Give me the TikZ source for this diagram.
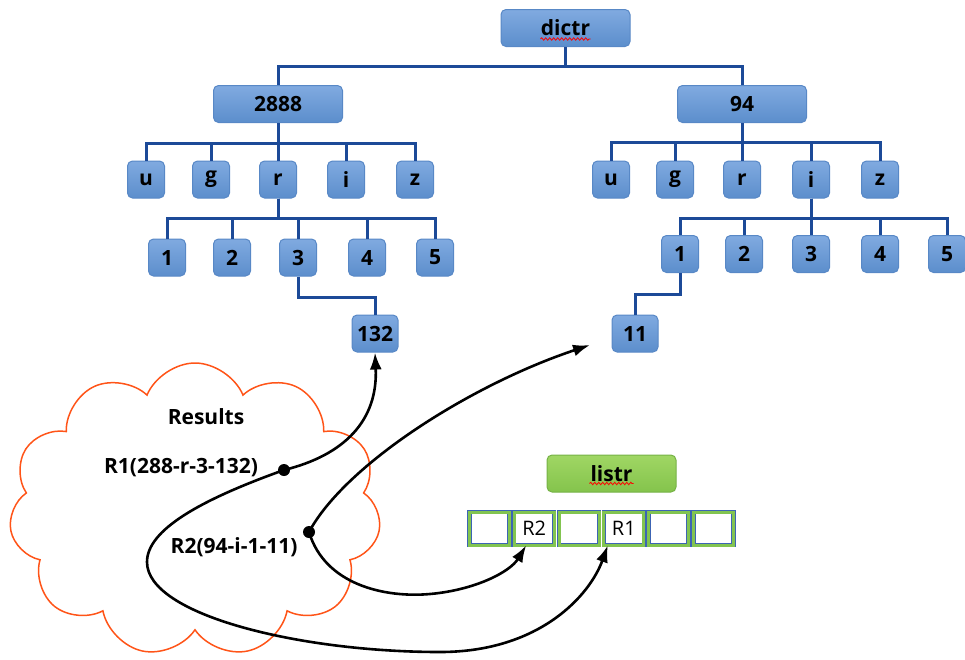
\documentclass[tikz,border=0pt]{standalone}
\usepackage{fontspec}
\setmainfont{Open Sans}
\usetikzlibrary{shapes.symbols,arrows.meta,calc,decorations.pathmorphing}
\definecolor{boxtop}{RGB}{128,170,224}
\definecolor{boxbot}{RGB}{92,142,204}
\definecolor{boxline}{RGB}{88,136,198}
\definecolor{treeblue}{RGB}{28,74,152}
\definecolor{greentop}{RGB}{160,214,100}
\definecolor{greenbot}{RGB}{132,196,76}
\definecolor{greenline}{RGB}{118,178,70}
\definecolor{cellgreen}{RGB}{130,196,80}
\definecolor{cellblue}{RGB}{60,100,180}
\definecolor{cloudred}{RGB}{255,84,24}
\begin{document}
\begin{tikzpicture}[x=1pt,y=-1pt,
  box/.style={rectangle, rounded corners=5pt, top color=boxtop, bottom color=boxbot,
    draw=boxline, line width=1pt, minimum width=37pt, minimum height=37pt, inner sep=0pt,
    font=\fontsize{21}{24}\selectfont\bfseries, text=black},
  widebox/.style={box, minimum width=129pt},
  greenbox/.style={widebox, top color=greentop, bottom color=greenbot, draw=greenline},
  treeline/.style={draw=treeblue, line width=3pt},
  arr/.style={draw=black, line width=2.6pt, -{Latex[length=17pt,width=12pt]}},
  cellbox/.style={rectangle, draw=cellblue, double=cellgreen, double distance=3pt,
    line width=0.7pt, fill=white, minimum width=40pt, minimum height=33pt, inner sep=0pt,
    font=\fontsize{20}{22}\selectfont},
  lbl/.style={font=\fontsize{21}{24}\selectfont\bfseries, inner sep=0pt},
  dotmark/.style={circle, fill=black, inner sep=0pt, minimum size=12pt},
  squiggle/.style={draw=red, line width=0.8pt, decorate,
    decoration={snake, segment length=4pt, amplitude=1.2pt}}]
\useasboundingbox (0,0) rectangle (965,659);

% cloud
\node[cloud, cloud puffs=11, cloud puff arc=135, aspect=1.25, draw=cloudred, line width=1.5pt,
  minimum width=372pt, minimum height=294pt, inner sep=0pt] (cloud) at (195,510) {};

% tree nodes
\node[widebox] (dictr) at (565.5,28) {dictr};
\node[widebox] (n2888) at (278,104) {2888};
\node[widebox] (n94) at (742,104) {94};

\node[box] (lu) at (146,179.5) {u};
\node[box] (lg) at (211,179.5) {g};
\node[box] (lr) at (278,179.5) {r};
\node[box] (li) at (346,179.5) {i};
\node[box] (lz) at (415,179.5) {z};

\node[box] (ru) at (611,179.5) {u};
\node[box] (rg) at (675,179.5) {g};
\node[box] (rr) at (742,179.5) {r};
\node[box] (ri) at (811,179.5) {i};
\node[box] (rz) at (880,179.5) {z};

\node[box] (l1) at (167,257.5) {1};
\node[box] (l2) at (232,257.5) {2};
\node[box] (l3) at (298,257.5) {3};
\node[box] (l4) at (367,257.5) {4};
\node[box] (l5) at (435,257.5) {5};

\node[box] (r1) at (680,254) {1};
\node[box] (r2) at (744,254) {2};
\node[box] (r3) at (811,254) {3};
\node[box] (r4) at (880,254) {4};
\node[box] (r5) at (947,254) {5};

\node[box, minimum width=46pt] (n132) at (375,333.5) {132};
\node[box, minimum width=46pt] (n11) at (635,333.5) {11};

% spell-check squiggles
\draw[squiggle] ($(dictr.center)+(-25,11)$) -- ($(dictr.center)+(25,11)$);

% tree connectors
\foreach \c in {n2888,n94} \draw[treeline] (dictr.south) -- ++(0,19) -| (\c.north);
\foreach \c in {lu,lg,lr,li,lz} \draw[treeline] (n2888.south) -- ++(0,20) -| (\c.north);
\foreach \c in {ru,rg,rr,ri,rz} \draw[treeline] (n94.south) -- ++(0,19) -| (\c.north);
\foreach \c in {l1,l2,l3,l4,l5} \draw[treeline] (lr.south) -- ++(0,20) -| (\c.north);
\foreach \c in {r1,r2,r3,r4,r5} \draw[treeline] (ri.south) -- ++(0,20) -| (\c.north);
\draw[treeline] (l3.south) -- ++(0,21) -| (n132.north);
\draw[treeline] (r1.south) -- ++(0,21) -| (n11.north);

% list
\node[greenbox] (listr) at (611.5,473.5) {listr};
\draw[squiggle] ($(listr.center)+(-22,10)$) -- ($(listr.center)+(22,10)$);
\foreach \i/\t in {1/,2/R2,3/,4/R1,5/,6/}
  \node[cellbox] (c\i) at ({489.4+44.8*(\i-1)},528.5) {\raisebox{-3pt}{\t}};

% cloud texts
\node[lbl] (res) at (206,417) {Results};
\node[lbl] (t1) at (181,468) {R1(288-r-3-132)};
\node[lbl] (t2) at (234,547) {R2(94-i-1-11)};
\node[dotmark] (d1) at (284,470) {};
\node[dotmark] (d2) at (309,532) {};

\coordinate (tip11) at (590,345);
\coordinate (tipR2) at ($(c2.south)+(-8,0)$);
\coordinate (tipR1) at ($(c4.south)+(-16,0)$);

% arrows
\draw[arr] (d1.center) .. controls (345,455) and (378,420) .. (n132.south);
\draw[arr] (d1.center) .. controls (200,500) and (147,530) .. (147,562)
  .. controls (147,615) and (300,652) .. (440,652)
  .. controls (540,652) and (590,595) .. (tipR1);
\draw[arr] (d2.center) .. controls (345,465) and (470,385) .. (tip11);
\draw[arr] (d2.center) .. controls (325,585) and (385,598) .. (430,594)
  .. controls (475,590) and (510,572) .. (tipR2);
\end{tikzpicture}
\end{document}
